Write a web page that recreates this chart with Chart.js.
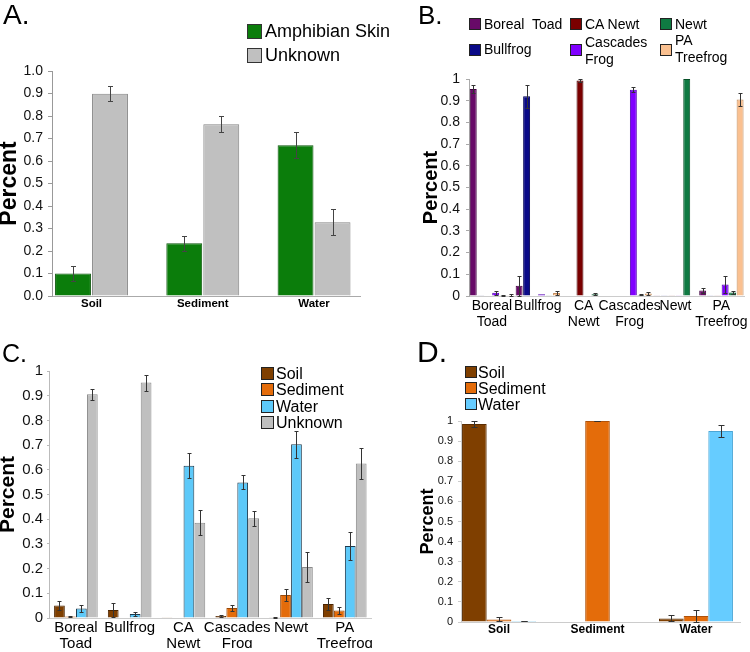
<!DOCTYPE html>
<html><head><meta charset="utf-8">
<script src="https://cdn.jsdelivr.net/npm/chart.js@4.4.0/dist/chart.umd.min.js"></script>
<style>
html,body{margin:0;padding:0;background:#fff;}
body{width:750px;height:652px;position:relative;overflow:hidden;font-family:"Liberation Sans",Arial,Helvetica,sans-serif;color:#000;}
.cvwrap{position:absolute;}
.plabel{position:absolute;line-height:1;white-space:pre;}
.sw{position:absolute;box-sizing:border-box;}
.lt{position:absolute;white-space:pre;}
</style></head><body>
<div class="cvwrap" style="left:0;top:0"><canvas id="cA" width="375" height="320"></canvas></div>
<div class="cvwrap" style="left:375px;top:0"><canvas id="cB" width="375" height="340"></canvas></div>
<div class="cvwrap" style="left:0;top:320px"><canvas id="cC" width="375" height="332"></canvas></div>
<div class="cvwrap" style="left:375px;top:340px"><canvas id="cD" width="375" height="312"></canvas></div>
<div class="plabel" style="left:3px;top:1px;font-size:28px">A.</div>
<div class="plabel" style="left:418px;top:2px;font-size:26px">B.</div>
<div class="plabel" style="left:2px;top:341px;font-size:25px">C.</div>
<div class="plabel" style="left:417px;top:337px;font-size:30px">D.</div>
<script>
const FONT = '"Liberation Sans", Arial, Helvetica, sans-serif';

// ---------- Panel A ----------
const aCategories = ['Soil', 'Sediment', 'Water'];
const aSeriesNames = ['Amphibian Skin', 'Unknown'];
const aSkinValues = [0.100, 0.235, 0.670];
const aSkinErrors = [0.032, 0.033, 0.057];
const aUnknownValues = [0.899, 0.763, 0.328];
const aUnknownErrors = [0.034, 0.035, 0.058];

// ---------- Panel B ----------
const bCategories = [['Boreal', 'Toad'], 'Bullfrog', ['CA', 'Newt'], ['Cascades', 'Frog'], 'Newt', ['PA', 'Treefrog']];
const bSeriesNames = ['Boreal  Toad', 'Bullfrog', 'CA Newt', 'Cascades Frog', 'Newt', 'PA Treefrog'];
const bLegendLines = [['Boreal  Toad'], ['Bullfrog'], ['CA Newt'], ['Cascades', 'Frog'], ['Newt'], ['PA', 'Treefrog']];
const bBorealToad = [0.954, 0.047, 0.000, 0.002, 0.001, 0.025];
const bBorealToadErr = [0.020, 0.047, 0, 0, 0, 0.012];
const bBullfrog = [0.003, 0.920, 0.000, 0.002, 0.001, 0.004];
const bBullfrogErr = [0, 0.054, 0, 0, 0, 0];
const bCANewt = [0.002, 0.000, 0.993, 0.002, 0.001, 0.001];
const bCANewtErr = [0, 0, 0.006, 0, 0, 0];
const bCascadesFrog = [0.015, 0.008, 0.002, 0.951, 0.001, 0.053];
const bCascadesFrogErr = [0.009, 0, 0, 0.012, 0, 0.039];
const bNewt = [0.004, 0.003, 0.008, 0.005, 1.000, 0.016];
const bNewtErr = [0.002, 0, 0.005, 0.002, 0, 0.009];
const bPATreefrog = [0.004, 0.014, 0.002, 0.012, 0.000, 0.905];
const bPATreefrogErr = [0.003, 0.010, 0, 0.008, 0, 0.031];

// ---------- Panel C ----------
const cCategories = [['Boreal', 'Toad'], 'Bullfrog', ['CA', 'Newt'], ['Cascades', 'Frog'], 'Newt', ['PA', 'Treefrog']];
const cSeriesNames = ['Soil', 'Sediment', 'Water', 'Unknown'];
const cSoil = [0.051, 0.032, 0.001, 0.008, 0.003, 0.057];
const cSoilErr = [0.019, 0.029, 0, 0.003, 0.003, 0.023];
const cSediment = [0.006, 0.000, 0.000, 0.040, 0.093, 0.030];
const cSedimentErr = [0.003, 0, 0, 0.011, 0.025, 0.015];
const cWater = [0.038, 0.016, 0.616, 0.549, 0.703, 0.291];
const cWaterErr = [0.013, 0.008, 0.050, 0.028, 0.054, 0.056];
const cUnknown = [0.906, 0.953, 0.386, 0.404, 0.206, 0.626];
const cUnknownErr = [0.023, 0.032, 0.051, 0.031, 0.060, 0.062];

// ---------- Panel D ----------
const dCategories = ['Soil', 'Sediment', 'Water'];
const dSeriesNames = ['Soil', 'Sediment', 'Water'];
const dSoil = [0.985, 0.000, 0.018];
const dSoilErr = [0.013, 0, 0.015];
const dSediment = [0.013, 1.000, 0.030];
const dSedimentErr = [0.010, 0.001, 0.031];
const dWater = [0.005, 0.000, 0.950];
const dWaterErr = [0.002, 0, 0.030];

// ---------- colours ----------
const aColors = ['#0b7d0b', '#c0c0c0'];
const aBorders = ['#0a560a', '#858585'];
const bColors = ['#680a68', '#0a0a88', '#7a0000', '#8000ff', '#0f7a42', '#fac090'];
const bBorders = ['#400040', '#000055', '#4a0000', '#5000b0', '#075028', '#c08a5a'];
const cColors = ['#7f3f00', '#e46c0a', '#5dc9f9', '#bfbfbf'];
const cBorders = ['#4a2400', '#9a4806', '#1d3a4e', '#8a8a8a'];
const dColors = ['#7f3f00', '#e46c0a', '#66ccff'];
const dBorders = ['#5a2c00', '#b0520a', '#4aa6d6'];

const errorBarPlugin = {
  id: 'errorBars',
  afterDatasetsDraw(chart, args, opts) {
    const ctx = chart.ctx;
    const yScale = chart.scales.y;
    ctx.save();
    ctx.strokeStyle = opts.color || '#333';
    ctx.lineWidth = opts.width || 1;
    chart.data.datasets.forEach((ds, di) => {
      if (!ds.errors) return;
      const meta = chart.getDatasetMeta(di);
      meta.data.forEach((bar, i) => {
        const e = ds.errors[i];
        if (!e) return;
        const raw = ds.data[i];
        const v = (raw !== null && typeof raw === 'object') ? raw.y : raw;
        const x = Math.round(bar.x) + 0.5;
        const yTop = Math.round(yScale.getPixelForValue(v + e)) + 0.5;
        const yBot = Math.round(yScale.getPixelForValue(Math.max(v - e, 0))) + 0.5;
        const c = opts.cap / 2;
        ctx.beginPath();
        ctx.moveTo(x, yTop); ctx.lineTo(x, yBot);
        ctx.moveTo(x - c, yTop); ctx.lineTo(x + c, yTop);
        ctx.moveTo(x - c, yBot); ctx.lineTo(x + c, yBot);
        ctx.stroke();
      });
    });
    ctx.restore();
  }
};

function fmtPlain(v) { return String(Math.round(v * 10) / 10); }
function fmtFixed(v) { return (Math.round(v * 10) / 10).toFixed(1); }

function yAxis(cfg) {
  return {
    type: 'linear', min: 0, max: 1,
    ticks: { stepSize: 0.1, autoSkip: false, color: '#111', padding: cfg.tickPad,
      font: { family: FONT, size: cfg.tickSize }, callback: cfg.fmt },
    grid: { display: true, drawOnChartArea: false, drawTicks: true, tickLength: cfg.tickLen, color: cfg.axisColor },
    border: { display: true, color: cfg.axisColor, width: 1 },
    title: { display: true, text: 'Percent', color: '#000',
      font: { family: FONT, size: cfg.titleSize, weight: 'bold', lineHeight: cfg.titleLH },
      padding: { top: cfg.titlePad, bottom: 0 } },
    afterFit: s => { s.width = cfg.width; }
  };
}

function linearX(min, max, cats, fontSize, pad, borderColor, height) {
  return {
    type: 'linear', min: min, max: max, offset: false,
    ticks: { stepSize: 1, includeBounds: false, autoSkip: false, maxRotation: 0, color: '#000', padding: pad,
      font: { family: FONT, size: fontSize, weight: 'bold' },
      callback: v => Number.isInteger(v) && cats[v] !== undefined ? cats[v] : '' },
    grid: { display: false, drawTicks: false, offset: false },
    border: { display: true, color: borderColor },
    afterFit: s => { s.height = height; }
  };
}

function baseOptions(pad, scales, cap, errColor) {
  return {
    responsive: false, animation: false, devicePixelRatio: 1,
    layout: { padding: pad },
    plugins: { legend: { display: false }, tooltip: { enabled: false }, title: { display: false },
      errorBars: { cap: cap, color: errColor, width: 1 } },
    scales: scales
  };
}

function linearDatasets(names, values, errors, colors, borders, cp, bp) {
  return names.map((n, k) => ({
    label: n,
    data: values[k].map((v, i) => ({ x: i, y: v })),
    errors: errors[k],
    backgroundColor: colors[k], borderColor: borders[k], borderWidth: 1,
    categoryPercentage: cp, barPercentage: bp
  }));
}
function catDatasets(names, values, errors, colors, borders, cp, bp) {
  return names.map((n, k) => ({
    label: n, data: values[k], errors: errors[k],
    backgroundColor: colors[k], borderColor: borders[k], borderWidth: 1,
    categoryPercentage: cp, barPercentage: bp
  }));
}

// ---- Chart A ----
new Chart(document.getElementById('cA'), {
  type: 'bar',
  data: { datasets: linearDatasets(aSeriesNames, [aSkinValues, aUnknownValues], [aSkinErrors, aUnknownErrors], aColors, aBorders, 0.665, 0.97) },
  options: baseOptions({ left: 0, top: 71, right: 15, bottom: 0 }, {
    x: linearX(-0.355, 2.413, aCategories, 11.5, 1, '#aaa', 24),
    y: yAxis({ tickPad: 5, tickSize: 14, fmt: fmtFixed, tickLen: 4, axisColor: '#999', titleSize: 23, titleLH: 0.87, titlePad: 0, width: 52 })
  }, 5, '#444'),
  plugins: [errorBarPlugin]
});

// ---- Chart B ----
new Chart(document.getElementById('cB'), {
  type: 'bar',
  data: { labels: bCategories,
    datasets: catDatasets(bSeriesNames, [bBorealToad, bBullfrog, bCANewt, bCascadesFrog, bNewt, bPATreefrog],
      [bBorealToadErr, bBullfrogErr, bCANewtErr, bCascadesFrogErr, bNewtErr, bPATreefrogErr], bColors, bBorders, 0.978, 0.93) },
  options: baseOptions({ left: 0, top: 79, right: 5, bottom: 4 }, {
    x: { type: 'category', offset: true,
      ticks: { autoSkip: false, maxRotation: 0, color: '#000', padding: 2,
        font: { family: FONT, size: 14, lineHeight: 1.14 } },
      grid: { display: false, drawTicks: false },
      border: { display: true, color: '#ccc' },
      afterFit: s => { s.height = 40; } },
    y: yAxis({ tickPad: 6, tickSize: 14, fmt: fmtPlain, tickLen: 3, axisColor: '#aaa', titleSize: 20, titleLH: 1.2, titlePad: 44, width: 94 })
  }, 4, '#333'),
  plugins: [errorBarPlugin]
});

// ---- Chart C ----
new Chart(document.getElementById('cC'), {
  type: 'bar',
  data: { labels: cCategories,
    datasets: catDatasets(cSeriesNames, [cSoil, cSediment, cWater, cUnknown],
      [cSoilErr, cSedimentErr, cWaterErr, cUnknownErr], cColors, cBorders, 0.815, 0.98) },
  options: baseOptions({ left: 0, top: 51, right: 2, bottom: 4 }, {
    x: { type: 'category', offset: true,
      ticks: { autoSkip: false, maxRotation: 0, color: '#000', padding: 2,
        font: { family: FONT, size: 15, lineHeight: 1.07 } },
      grid: { display: false, drawTicks: false },
      border: { display: true, color: '#ccc' },
      afterFit: s => { s.height = 30; } },
    y: yAxis({ tickPad: 4, tickSize: 15, fmt: fmtPlain, tickLen: 2, axisColor: '#bbb', titleSize: 21, titleLH: 0.81, titlePad: 0, width: 49 })
  }, 4, '#333'),
  plugins: [errorBarPlugin]
});

// ---- Chart D ----
new Chart(document.getElementById('cD'), {
  type: 'bar',
  data: { datasets: linearDatasets(dSeriesNames, [dSoil, dSediment, dWater], [dSoilErr, dSedimentErr, dWaterErr], dColors, dBorders, 0.751, 1) },
  options: baseOptions({ left: 0, top: 81, right: 10, bottom: 4 }, {
    x: linearX(-0.386, 2.447, dCategories, 12, 0, '#ccc', 26),
    y: yAxis({ tickPad: 5, tickSize: 11, fmt: fmtPlain, tickLen: 3, axisColor: '#ccc', titleSize: 18, titleLH: 1.2, titlePad: 42, width: 86 })
  }, 6, '#333'),
  plugins: [errorBarPlugin]
});

// ---------- HTML legends ----------
function legendItem(o) {
  const sw = document.createElement('div');
  sw.className = 'sw';
  sw.style.cssText = `left:${o.x}px;top:${o.cy - o.size / 2}px;width:${o.size}px;height:${o.size}px;background:${o.fill};border:${o.bw}px solid ${o.stroke};`;
  document.body.appendChild(sw);
  const t = document.createElement('div');
  t.className = 'lt';
  const h = o.lines.length * o.lineH;
  t.style.cssText = `left:${o.tx}px;top:${o.tcy - h / 2}px;font-size:${o.fontSize}px;line-height:${o.lineH}px;`;
  t.textContent = o.lines.join('\n');
  document.body.appendChild(t);
}

// A legend
aSeriesNames.forEach((n, k) => legendItem({ x: 247, cy: [31, 55][k], size: 15, fill: aColors[k], stroke: '#333', bw: 1.5,
  tx: 265, tcy: [31, 55][k], lines: [n], fontSize: 18, lineH: 20 }));

// B legend (three columns, two rows)
const bLegX = [469, 469, 570, 570, 660, 660];
const bLegCY = [24, 50, 24, 50, 24, 50];
const bLegTCY = [24, 49, 24, 50.5, 24, 48.5];
bSeriesNames.forEach((n, k) => legendItem({ x: bLegX[k], cy: bLegCY[k], size: 12, fill: bColors[k], stroke: '#222', bw: 1.5,
  tx: bLegX[k] + 15, tcy: bLegTCY[k], lines: bLegendLines[k], fontSize: 14, lineH: 17 }));

// C legend
cSeriesNames.forEach((n, k) => legendItem({ x: 261, cy: 373 + k * 16.5, size: 13, fill: cColors[k], stroke: '#222', bw: 1.5,
  tx: 276, tcy: 373 + k * 16.5, lines: [n], fontSize: 16, lineH: 17 }));

// D legend
dSeriesNames.forEach((n, k) => legendItem({ x: 465, cy: 372 + k * 16, size: 12, fill: dColors[k], stroke: '#222', bw: 1.5,
  tx: 478, tcy: 372 + k * 16, lines: [n], fontSize: 16, lineH: 17 }));
</script>
</body></html>
